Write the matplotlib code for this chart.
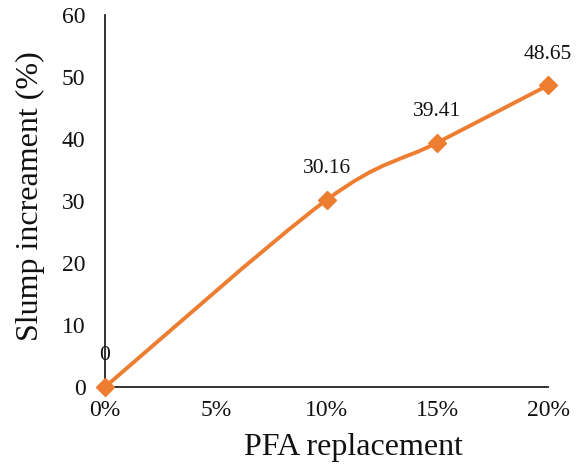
import numpy as np
import matplotlib
matplotlib.use("Agg")
import matplotlib.pyplot as plt
from matplotlib.path import Path
from matplotlib.patches import PathPatch

# PFA replacement (%) and slump increase (%)
replacement = [0, 10, 15, 20]
slump_increase = [0, 30.16, 39.41, 48.65]
x_ticks = [0, 5, 10, 15, 20]
x_tick_labels = ["0%", "5%", "10%", "15%", "20%"]
y_ticks = [0, 10, 20, 30, 40, 50, 60]

ORANGE = "#ED7D31"
plt.rcParams["font.family"] = ["Liberation Serif", "DejaVu Serif"]

fig = plt.figure(figsize=(5.84, 4.70), dpi=100)
ax = fig.add_axes([105 / 584, (470 - 387) / 470, 443 / 584, 372 / 470])
ax.set_xlim(0, 20)
ax.set_ylim(0, 60)

# Smoothed curve (cubic Bezier through the points, Catmull-Rom style control points)
pts = np.column_stack([replacement, slump_increase]).astype(float)
n = len(pts)
verts = [tuple(pts[0])]
codes = [Path.MOVETO]
for i in range(n - 1):
    p0 = pts[i - 1] if i > 0 else pts[i]
    p1 = pts[i]
    p2 = pts[i + 1]
    p3 = pts[i + 2] if i + 2 < n else pts[i + 1]
    c1 = p1 + (p2 - p0) / 6.0
    c2 = p2 - (p3 - p1) / 6.0
    verts += [tuple(c1), tuple(c2), tuple(p2)]
    codes += [Path.CURVE4] * 3
curve = PathPatch(Path(verts, codes), facecolor="none", edgecolor=ORANGE,
                  lw=2.8, capstyle="round", joinstyle="round", clip_on=False, zorder=3)
ax.add_patch(curve)
ax.plot(replacement, slump_increase, linestyle="none", marker="D", markersize=9.5,
        color=ORANGE, clip_on=False, zorder=4)

for xv, yv in zip(replacement, slump_increase):
    ax.annotate(f"{yv:g}", (xv, yv), xytext=(0, 22.5), textcoords="offset points",
                ha="center", va="center", fontsize=15.5, color="#111111", zorder=5)

for side in ("top", "right"):
    ax.spines[side].set_visible(False)
for side in ("left", "bottom"):
    ax.spines[side].set_color("#222222")
    ax.spines[side].set_linewidth(1.3)
ax.spines["left"].set_zorder(1)
ax.spines["bottom"].set_zorder(1)

ax.set_xticks(x_ticks)
ax.set_xticklabels(x_tick_labels)
ax.set_yticks(y_ticks)
ax.tick_params(axis="both", length=0, labelsize=17, colors="#111111")
ax.tick_params(axis="x", pad=9)
ax.tick_params(axis="y", pad=14)

fig.text(354 / 584, 1 - 447 / 470, "PFA replacement", fontsize=23, color="#111111",
         ha="center", va="center")
fig.text(30 / 584, 1 - 196 / 470, "Slump increament (%)", fontsize=23, color="#111111",
         ha="center", va="center", rotation=90)

fig.savefig("out.png", dpi=100, facecolor="white")
